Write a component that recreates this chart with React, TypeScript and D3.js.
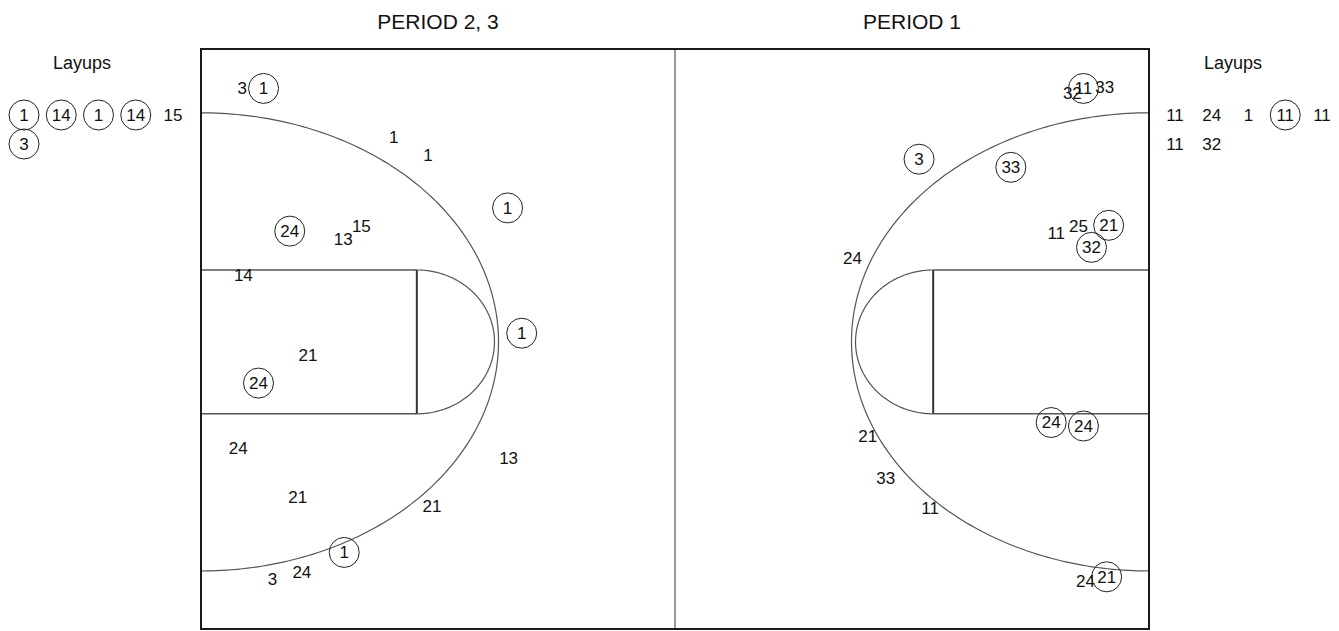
import React, { useEffect, useRef } from 'react'
import * as d3 from 'd3'

const periodTitles = ['PERIOD 2, 3', 'PERIOD 1']

// shot spots in feet: x from the left baseline, y from the top sideline
const period23Shots = [
  { player: '3', x: 4.1, y: 3.4, made: false },
  { player: '1', x: 6.2, y: 3.4, made: true },
  { player: '1', x: 19.1, y: 7.6, made: false },
  { player: '1', x: 22.5, y: 9.1, made: false },
  { player: '1', x: 30.4, y: 13.7, made: true },
  { player: '24', x: 8.8, y: 15.7, made: true },
  { player: '13', x: 14.1, y: 16.4, made: false },
  { player: '15', x: 15.9, y: 15.3, made: false },
  { player: '14', x: 4.2, y: 19.5, made: false },
  { player: '1', x: 31.8, y: 24.5, made: true },
  { player: '21', x: 10.6, y: 26.4, made: false },
  { player: '24', x: 5.7, y: 28.8, made: true },
  { player: '24', x: 3.7, y: 34.4, made: false },
  { player: '13', x: 30.5, y: 35.3, made: false },
  { player: '21', x: 9.6, y: 38.6, made: false },
  { player: '21', x: 22.9, y: 39.4, made: false },
  { player: '1', x: 14.2, y: 43.4, made: true },
  { player: '24', x: 10.0, y: 45.1, made: false },
  { player: '3', x: 7.1, y: 45.7, made: false },
]

const period1Shots = [
  { player: '32', x: 86.4, y: 3.8, made: false },
  { player: '11', x: 87.5, y: 3.4, made: true },
  { player: '33', x: 89.6, y: 3.3, made: false },
  { player: '3', x: 71.2, y: 9.5, made: true },
  { player: '33', x: 80.3, y: 10.2, made: true },
  { player: '11', x: 84.8, y: 15.9, made: false },
  { player: '25', x: 87.0, y: 15.3, made: false },
  { player: '21', x: 90.0, y: 15.2, made: true },
  { player: '32', x: 88.3, y: 17.1, made: true },
  { player: '24', x: 64.6, y: 18.0, made: false },
  { player: '24', x: 84.3, y: 32.2, made: true },
  { player: '24', x: 87.5, y: 32.5, made: true },
  { player: '21', x: 66.1, y: 33.4, made: false },
  { player: '33', x: 67.9, y: 37.0, made: false },
  { player: '11', x: 72.3, y: 39.6, made: false },
  { player: '24', x: 87.7, y: 45.9, made: false },
  { player: '21', x: 89.8, y: 45.5, made: true },
]

const layupsLeft = [
  { player: '1', made: true },
  { player: '14', made: true },
  { player: '1', made: true },
  { player: '14', made: true },
  { player: '15', made: false },
  { player: '3', made: true },
]

const layupsRight = [
  { player: '11', made: false },
  { player: '24', made: false },
  { player: '1', made: false },
  { player: '11', made: true },
  { player: '11', made: false },
  { player: '11', made: false },
  { player: '32', made: false },
]

const FONT = "Arial, 'Liberation Sans', sans-serif"

const App = () => {
  const svgRef = useRef(null)

  useEffect(() => {
    const svg = d3.select(svgRef.current)
    svg.selectAll('*').remove()

    const width = 1339
    const height = 631

    svg.attr('width', width).attr('height', height)

    // full court, 94 x 50 ft
    const x = d3.scaleLinear().domain([0, 94]).range([201, 1149])
    const y = d3.scaleLinear().domain([0, 50]).range([49, 629])

    const midY = 25.25
    const threeRx = 29.5
    const threeRy = 19.75
    const keyDepth = 21.4
    const keyHalf = 6.2
    const ftRx = 7.7
    const ftRy = 6.2

    const line = d3.line()

    // half ellipse opening towards a baseline, dir = 1 bulges right, -1 left
    const halfEllipse = (cx, cy, rx, ry, dir) =>
      line(
        d3.range(0, 181).map((i) => {
          const a = ((i - 90) * Math.PI) / 180
          return [x(cx + dir * rx * Math.cos(a)), y(cy + ry * Math.sin(a))]
        })
      )

    const court = svg.append('g')

    // center line
    court.append('line')
      .attr('x1', x(47)).attr('x2', x(47))
      .attr('y1', y(0)).attr('y2', y(50))
      .attr('stroke', '#999')
      .attr('stroke-width', 2)

    const sides = [
      { base: 0, dir: 1 },
      { base: 94, dir: -1 },
    ]

    sides.forEach(({ base, dir }) => {
      const g = court.append('g')
      // three point arc
      g.append('path')
        .attr('d', halfEllipse(base, midY, threeRx, threeRy, dir))
        .attr('fill', 'none')
        .attr('stroke', '#555')
        .attr('stroke-width', 1.2)
      // key
      const ft = base + dir * keyDepth
      g.append('path')
        .attr('d', line([[x(base), y(midY - keyHalf)], [x(ft), y(midY - keyHalf)]]))
        .attr('stroke', '#555').attr('stroke-width', 1.5)
      g.append('path')
        .attr('d', line([[x(base), y(midY + keyHalf)], [x(ft), y(midY + keyHalf)]]))
        .attr('stroke', '#555').attr('stroke-width', 1.5)
      g.append('path')
        .attr('d', line([[x(ft), y(midY - keyHalf)], [x(ft), y(midY + keyHalf)]]))
        .attr('stroke', '#333').attr('stroke-width', 2)
      // free throw half circle
      g.append('path')
        .attr('d', halfEllipse(ft, midY, ftRx, ftRy, dir))
        .attr('fill', 'none')
        .attr('stroke', '#555')
        .attr('stroke-width', 1.2)
    })

    // outer border
    court.append('rect')
      .attr('x', x(0)).attr('y', y(0))
      .attr('width', x(94) - x(0))
      .attr('height', y(50) - y(0))
      .attr('fill', 'none')
      .attr('stroke', '#1a1a1a')
      .attr('stroke-width', 2)

    // titles
    svg.selectAll('text.title')
      .data(periodTitles)
      .enter()
      .append('text')
      .attr('class', 'title')
      .attr('x', (d, i) => x(i * 47 + 23.5))
      .attr('y', 29)
      .attr('text-anchor', 'middle')
      .style('font-family', FONT)
      .style('font-size', '21px')
      .style('fill', '#111')
      .text((d) => d)

    const drawLabel = (g, cx, cy, d) => {
      const item = g.append('g').attr('transform', `translate(${cx},${cy})`)
      if (d.made) {
        item.append('circle')
          .attr('r', 15)
          .attr('fill', 'none')
          .attr('stroke', '#222')
          .attr('stroke-width', 1)
      }
      item.append('text')
        .attr('text-anchor', 'middle')
        .attr('dy', '0.35em')
        .style('font-family', FONT)
        .style('font-size', '17px')
        .style('fill', '#111')
        .text(d.player)
    }

    const shots = svg.append('g')
    period23Shots.forEach((d) => drawLabel(shots, x(d.x), y(d.y), d))
    period1Shots.forEach((d) => drawLabel(shots, x(d.x), y(d.y), d))

    // layups lists beside each baseline
    const perRow = 5
    const rowY = d3.scaleLinear().domain([0, 1]).range([115, 144])
    const leftCol = d3.scaleLinear().domain([0, 4]).range([24, 173])
    const rightCol = d3.scaleLinear().domain([0, 4]).range([1175, 1322])

    const layups = [
      { items: layupsLeft, col: leftCol, labelX: 82 },
      { items: layupsRight, col: rightCol, labelX: 1233 },
    ]

    layups.forEach(({ items, col, labelX }) => {
      const g = svg.append('g')
      g.append('text')
        .attr('x', labelX)
        .attr('y', 69)
        .attr('text-anchor', 'middle')
        .style('font-family', FONT)
        .style('font-size', '18px')
        .style('fill', '#111')
        .text('Layups')
      items.forEach((d, i) =>
        drawLabel(g, col(i % perRow), rowY(Math.floor(i / perRow)), d)
      )
    })
  }, [])

  return (
    <div style={{ position: 'absolute', left: 0, top: 0, width: 1339, height: 631, background: '#fff' }}>
      <svg ref={svgRef}></svg>
    </div>
  )
}

export default App
